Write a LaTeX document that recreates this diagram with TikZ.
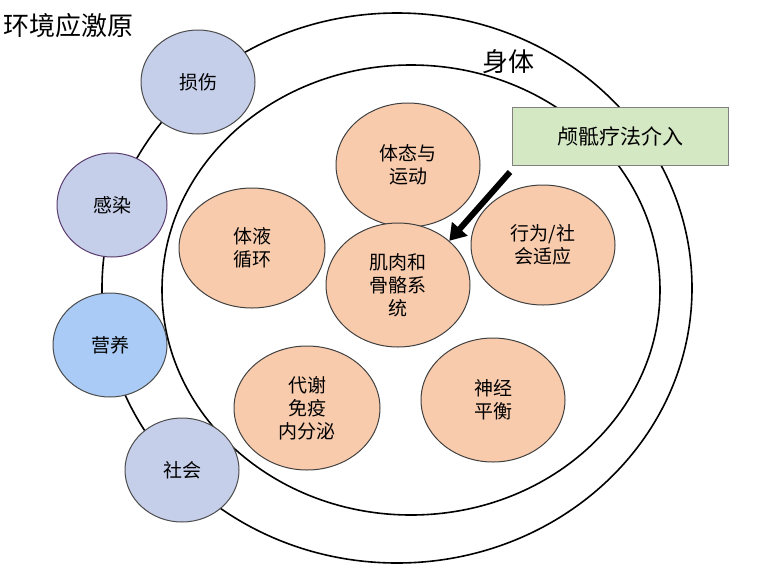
\documentclass[tikz,border=0pt]{standalone}
\usepackage{fontspec}
\setmainfont{Noto Sans CJK SC}
\usetikzlibrary{shapes.geometric,arrows.meta}
\tikzset{
 body/.style={ellipse,draw=black,line width=1.6pt},
 sub/.style={ellipse,draw=black!75,line width=1pt,fill={rgb,255:red,248;green,203;blue,173},font=\fontsize{19}{23}\selectfont,align=center,inner sep=0pt},
 env/.style={ellipse,draw=black!70,line width=1pt,fill=blue!20!white,font=\fontsize{19}{22}\selectfont,inner sep=0pt},
}
\begin{document}
\begin{tikzpicture}[x=1pt,y=-1pt]
\useasboundingbox (0,0) rectangle (776,563);
\node[body,minimum width=590,minimum height=550] (outer) at (397,288) {};
\node[body,minimum width=498,minimum height=450] (inner) at (411,290) {};
\node[sub,minimum width=144,minimum height=124] (s1) at (408,165) {体态与\\运动};
\node[sub,minimum width=146,minimum height=120] (s2) at (252,248) {体液\\循环};
\node[sub,minimum width=144,minimum height=124] (s3) at (398,285) {肌肉和\\骨骼系\\统};
\node[sub,minimum width=144,minimum height=120] (s4) at (543,245) {行为/社\\会适应};
\node[sub,minimum width=146,minimum height=124] (s5) at (307,408) {代谢\\免疫\\内分泌};
\node[sub,minimum width=144,minimum height=124] (s6) at (493,400) {神经\\平衡};
\node[env,minimum width=114,minimum height=104,fill={rgb,255:red,197;green,207;blue,234}] (e1) at (198,82) {损伤};
\node[env,minimum width=110,minimum height=104,fill={rgb,255:red,197;green,207;blue,234},draw={rgb,255:red,90;green,60;blue,110}] (e2) at (112,205) {感染};
\node[env,minimum width=114,minimum height=104,fill={rgb,255:red,169;green,203;blue,245}] (e3) at (110,345) {营养};
\node[env,minimum width=114,minimum height=104,fill={rgb,255:red,197;green,207;blue,234}] (e4) at (182,470) {社会};
\node[anchor=west,font=\fontsize{26}{28}\selectfont,inner sep=0pt] (t1) at (3,26) {环境应激原};
\node[font=\fontsize{26}{28}\selectfont,inner sep=0pt] (t2) at (508,62) {身体};
\node[draw=black!50,line width=1pt,fill={rgb,255:red,213;green,232;blue,196},minimum width=216,minimum height=58,font=\fontsize{21}{24}\selectfont] (box) at (620,136) {颅骶疗法介入};
\coordinate (a0) at (510,172);
\draw[line width=6pt,-{Triangle[length=16pt,width=20pt]}] (a0) -- (s3.north east);
\end{tikzpicture}
\end{document}
